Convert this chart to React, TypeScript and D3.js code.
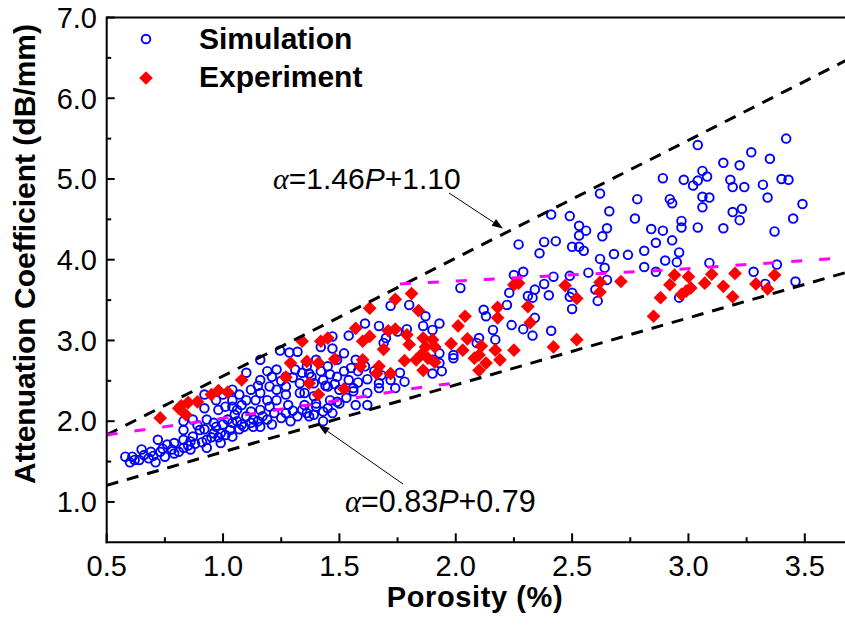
import React from "react";
import * as d3 from "d3";

// porosity (%), attenuation coefficient (dB/mm)
const simulation: [number, number][] = [
  [3.04, 5.42], [3.42, 5.5], [3.27, 5.33], [3.15, 5.2], [3.22, 5.17], [3.35, 5.25], [3.06, 5.1], [3.08, 5.03],
  [2.89, 5.01], [2.98, 4.99], [3.02, 4.92], [3.04, 4.98], [3.18, 4.99], [3.19, 4.9], [3.24, 4.9], [3.32, 4.93],
  [3.4, 5.0], [3.43, 4.99], [3.34, 4.77], [3.06, 4.78], [3.09, 4.77], [3.06, 4.65], [2.92, 4.75], [2.93, 4.7],
  [2.78, 4.75], [2.62, 4.82], [2.66, 4.6], [2.41, 4.56], [2.49, 4.54], [2.53, 4.42], [2.56, 4.36], [2.53, 4.3],
  [2.63, 4.29], [2.65, 4.39], [2.5, 4.16], [2.53, 4.16], [2.55, 4.11], [2.38, 4.22], [2.43, 4.23], [2.36, 4.08],
  [2.77, 4.51], [2.84, 4.38], [2.89, 4.36], [2.86, 4.21], [2.93, 4.24], [2.97, 4.48], [2.97, 4.4], [3.04, 4.4],
  [3.15, 4.39], [3.19, 4.59], [3.23, 4.63], [3.22, 4.49], [3.37, 4.35], [3.45, 4.51], [3.49, 4.69], [2.62, 4.01],
  [2.64, 3.9], [2.68, 4.07], [2.74, 4.06], [2.81, 4.11], [2.9, 3.99], [2.95, 3.97], [2.96, 4.09], [2.81, 3.91],
  [2.86, 3.85], [3.09, 3.96], [3.28, 3.85], [3.38, 3.94], [3.33, 3.7], [3.46, 3.73], [2.29, 3.85], [2.42, 3.79],
  [2.49, 3.8], [2.57, 3.84], [2.65, 3.75], [2.6, 3.63], [2.61, 3.49], [2.5, 3.59], [2.49, 3.54], [2.5, 3.39],
  [2.38, 3.7], [2.34, 3.63], [2.33, 3.53], [2.31, 3.55], [2.4, 3.56], [2.34, 3.28], [2.29, 3.14], [2.33, 3.06],
  [2.41, 3.12], [2.96, 3.53],
  [2.27, 4.19], [2.02, 3.65], [2.25, 3.81], [2.23, 3.59], [2.22, 3.44], [2.12, 3.38], [2.13, 3.3], [2.16, 3.13],
  [2.17, 3.01], [2.24, 3.19], [2.1, 3.03], [2.09, 2.97], [1.99, 2.82], [1.99, 2.78], [1.72, 3.43], [1.8, 3.44],
  [1.87, 3.3], [1.93, 3.21], [1.86, 3.18], [1.9, 3.13], [1.93, 2.84], [1.93, 2.72], [1.9, 2.76], [1.94, 2.62],
  [1.9, 2.59], [1.79, 3.14], [1.75, 3.11], [1.7, 3.03], [1.69, 2.97], [1.61, 3.21], [1.67, 3.18], [1.54, 3.06],
  [1.47, 3.05], [1.42, 2.92], [1.47, 2.9], [1.52, 2.84], [1.57, 2.76], [1.61, 2.68], [1.65, 2.62], [1.68, 2.57],
  [1.58, 2.62], [1.55, 2.66], [1.49, 2.76], [1.45, 2.68], [1.4, 2.76], [1.36, 2.68], [1.38, 2.55], [1.43, 2.51],
  [1.49, 2.55], [1.54, 2.51], [1.62, 2.52], [1.67, 2.47], [1.72, 2.51], [1.76, 2.6], [1.78, 2.49], [1.74, 2.41],
  [1.35, 2.35], [1.46, 2.26], [1.5, 2.39], [1.56, 2.37], [1.62, 2.35], [1.57, 2.2], [1.62, 2.2], [1.5, 2.22],
  [1.4, 2.18], [1.43, 2.12], [1.37, 2.06], [1.47, 2.1],
  [1.245, 2.875], [1.285, 2.85], [1.32, 2.86], [1.1, 2.6], [1.16, 2.51], [1.2, 2.43], [1.12, 2.39], [1.07, 2.33],
  [1.1, 2.26], [1.04, 2.26], [1.01, 2.18], [0.98, 2.14], [0.92, 2.16], [0.93, 2.02], [0.97, 1.93], [0.99, 1.73],
  [1.04, 1.81], [0.9, 1.89], [0.87, 1.81], [0.93, 1.67], [0.83, 1.89], [0.79, 1.73], [0.83, 1.67], [0.72, 1.77],
  [0.76, 1.71], [0.73, 1.62], [0.69, 1.62], [0.65, 1.65], [0.64, 1.52], [0.68, 1.54], [0.71, 1.49], [0.75, 1.56],
  [0.79, 1.6], [0.58, 1.56], [0.61, 1.56], [0.6, 1.49], [0.83, 2.0], [0.87, 2.02], [1.16, 2.76], [1.19, 2.62],
  [1.23, 2.64], [1.27, 2.55], [1.31, 2.64], [1.37, 2.59], [1.33, 2.47], [1.23, 2.39], [1.27, 2.33], [1.19, 2.26],
  [1.16, 2.14], [1.22, 2.1], [1.27, 2.1], [1.32, 2.06], [1.36, 2.1], [1.39, 2.08], [1.13, 2.02], [1.09, 1.93],
  [1.1, 2.06], [1.04, 1.98], [1.02, 2.02], [0.99, 1.85], [1.05, 2.08], [0.97, 2.26], [1.0, 2.33], [0.92, 2.33],
  [1.16, 2.35], [1.39, 2.31],
  [0.83, 1.77], [0.86, 1.65], [0.86, 1.75], [0.93, 1.77], [0.96, 1.85], [0.96, 1.98], [1.03, 1.89], [1.04, 2.18],
  [1.08, 1.96], [1.13, 1.93], [1.16, 1.93], [1.17, 2.06], [1.43, 2.0], [1.4, 2.22], [1.45, 2.16], [1.49, 2.24],
  [1.53, 2.29], [1.04, 2.39], [1.27, 2.43], [1.33, 2.35], [1.39, 2.47], [1.45, 2.43], [1.23, 2.26], [1.35, 2.2],
  [1.56, 2.41], [1.67, 2.41],
  [0.62, 1.52], [0.66, 1.58], [0.7, 1.57], [0.74, 1.66], [0.78, 1.65], [0.81, 1.62], [0.85, 1.7], [0.88, 1.72],
  [0.91, 1.74], [0.95, 1.8], [0.98, 1.8], [1.01, 1.83], [0.89, 1.95], [0.92, 1.9], [1.0, 1.96], [1.06, 2.0],
  [1.07, 1.9], [1.12, 1.98], [1.15, 2.0], [1.19, 2.02], [1.21, 1.96], [1.25, 2.04], [1.29, 2.0], [1.3, 2.13],
  [1.34, 2.14], [1.28, 2.2], [1.2, 2.18], [1.14, 2.26], [1.08, 2.2], [1.12, 2.12], [1.06, 2.14],
  [1.3, 2.54], [1.34, 2.6], [1.42, 2.62], [1.46, 2.58], [1.44, 2.44], [1.52, 2.62], [1.48, 2.46], [1.58, 2.48],
  [1.25, 2.5], [1.21, 2.55], [1.15, 2.44],
];

const experiment: [number, number][] = [
  [2.62, 3.72], [2.62, 3.6], [2.71, 3.73], [2.47, 3.68], [2.52, 3.52], [2.31, 3.42], [2.32, 3.22], [2.42, 2.92],
  [2.52, 3.01], [2.94, 3.81], [3.0, 3.79], [2.92, 3.69], [2.99, 3.61], [3.01, 3.65], [2.97, 3.57], [2.88, 3.53],
  [2.85, 3.3], [3.07, 3.71], [3.1, 3.82], [3.15, 3.67], [3.2, 3.83], [3.19, 3.54], [3.29, 3.7], [3.34, 3.64],
  [3.37, 3.81],
  [1.74, 3.51], [1.81, 3.58], [1.84, 3.37], [1.63, 3.4], [1.57, 3.15], [1.6, 2.99], [1.63, 3.05], [1.71, 3.12],
  [1.74, 3.14], [1.69, 2.89], [1.79, 3.07], [1.8, 2.95], [1.86, 3.03], [1.9, 3.01], [1.87, 2.92], [1.91, 2.92],
  [1.85, 2.82], [1.88, 2.78], [1.83, 2.76], [1.91, 2.73], [1.86, 2.63], [1.78, 2.75], [1.67, 2.68], [1.66, 2.59],
  [1.72, 2.59], [1.6, 2.76], [1.59, 2.68], [1.45, 3.03], [1.42, 2.99], [1.34, 2.99], [1.48, 2.77], [1.36, 2.74],
  [1.41, 2.72], [1.37, 2.47], [1.41, 2.33], [1.52, 2.4], [1.98, 2.96], [2.01, 3.18], [2.04, 3.3], [2.05, 3.02],
  [2.03, 2.88], [2.11, 2.93], [2.1, 2.82], [2.13, 2.72], [2.08, 2.78], [2.17, 2.88], [2.19, 2.76], [2.1, 2.63],
  [2.18, 3.41], [2.18, 3.28], [2.25, 3.69], [2.27, 3.71], [2.25, 2.88],
  [1.29, 2.72], [1.27, 2.545], [1.08, 2.51], [1.02, 2.36], [0.98, 2.38], [0.95, 2.33], [0.89, 2.24], [0.85, 2.23],
  [0.82, 2.19], [0.84, 2.08], [0.73, 2.04], [0.81, 2.16],
];

// bounding lines from the labels, and the two magenta trend lines
const upperFit: [number, number][] = [[0.5, 1.83], [3.7, 6.502]];
const lowerFit: [number, number][] = [[0.5, 1.205], [3.7, 3.861]];
const lowerTrend: [number, number][] = [[0.5, 1.83], [0.87, 1.98], [1.1, 2.08], [1.34, 2.19], [1.57, 2.29], [1.78, 2.39], [2.04, 2.49]];
const upperTrend: [number, number][] = [[1.76, 3.7], [2.03, 3.74], [2.28, 3.78], [2.9, 3.87], [3.7, 4.03]];

const xTicks = [0.5, 1.0, 1.5, 2.0, 2.5, 3.0, 3.5];
const xMinor = [0.75, 1.25, 1.75, 2.25, 2.75, 3.25];
const yTicks = [1, 2, 3, 4, 5, 6, 7];
const yMinor = [1.5, 2.5, 3.5, 4.5, 5.5, 6.5];

const W = 845;
const H = 628;
const left = 106.7;
const top = 17.5;
const bottom = 542.3;
const font = "'Liberation Sans', Arial, Helvetica, sans-serif";
const serif = "'Liberation Serif', 'Times New Roman', serif";

function Arrow({ x1, y1, x2, y2 }: { x1: number; y1: number; x2: number; y2: number }) {
  const a = Math.atan2(y2 - y1, x2 - x1);
  const len = 11;
  const w = 4;
  const bx = x2 - len * Math.cos(a);
  const by = y2 - len * Math.sin(a);
  const pts = [
    [x2, y2],
    [bx + w * Math.sin(a), by - w * Math.cos(a)],
    [bx - w * Math.sin(a), by + w * Math.cos(a)],
  ];
  return (
    <g>
      <line x1={x1} y1={y1} x2={bx} y2={by} stroke="#000" strokeWidth={1} />
      <polygon points={pts.map((p) => p.join(",")).join(" ")} fill="#000" />
    </g>
  );
}

export default function App() {
  const x = d3.scaleLinear().domain([0.5, 3.7]).range([left, left + 3.2 * 232.7]);
  const y = d3.scaleLinear().domain([0.5, 7]).range([bottom, top]);
  const line = d3
    .line<[number, number]>()
    .x((d) => x(d[0]))
    .y((d) => y(d[1]));
  const diamond = d3.symbol().type(d3.symbolSquare).size(94)() as string;

  return (
    <svg width={W} height={H} style={{ position: "absolute", left: 0, top: 0, background: "#fff" }} fontFamily={font}>
      <defs>
        <clipPath id="plot">
          <rect x={left} y={top} width={W - left} height={bottom - top} />
        </clipPath>
      </defs>

      {/* scatter */}
      <g fill="none" stroke="#0000ff" strokeWidth={1.9}>
        {simulation.map((d, i) => (
          <circle key={i} cx={x(d[0])} cy={y(d[1])} r={4.3} />
        ))}
      </g>
      <g fill="#ff0000">
        {experiment.map((d, i) => (
          <path key={i} d={diamond} transform={`translate(${x(d[0])},${y(d[1])}) rotate(45)`} />
        ))}
      </g>

      {/* lines */}
      <g clipPath="url(#plot)" fill="none" strokeWidth={3}>
        <path d={line(upperFit) ?? ""} stroke="#000" strokeDasharray="12 9" />
        <path d={line(lowerFit) ?? ""} stroke="#000" strokeDasharray="12 9" />
        <path d={line(lowerTrend) ?? ""} stroke="#ff00ff" strokeDasharray="11 17" />
        <path d={line(upperTrend) ?? ""} stroke="#ff00ff" strokeDasharray="11 17" />
      </g>

      {/* axes */}
      <g stroke="#000" strokeWidth={2}>
        <line x1={left} y1={top} x2={W} y2={top} />
        <line x1={left} y1={top - 1} x2={left} y2={bottom + 1} />
        <line x1={left - 1} y1={bottom} x2={W} y2={bottom} />
        {xTicks.map((t) => (
          <line key={t} x1={x(t)} x2={x(t)} y1={bottom} y2={bottom - 9} />
        ))}
        {xMinor.map((t) => (
          <line key={t} x1={x(t)} x2={x(t)} y1={bottom} y2={bottom - 5} />
        ))}
        {yTicks.map((t) => (
          <line key={t} x1={left} x2={left + 8} y1={y(t)} y2={y(t)} />
        ))}
        {yMinor.map((t) => (
          <line key={t} x1={left} x2={left + 4.5} y1={y(t)} y2={y(t)} />
        ))}
      </g>
      <g fontSize={29} fill="#000">
        {xTicks.map((t) => (
          <text key={t} x={x(t)} y={576} textAnchor="middle">
            {t.toFixed(1)}
          </text>
        ))}
        {yTicks.map((t) => (
          <text key={t} x={97} y={y(t) + 10.3} textAnchor="end">
            {t.toFixed(1)}
          </text>
        ))}
      </g>
      <text x={475} y={607} textAnchor="middle" fontSize={29} fontWeight="bold" letterSpacing={0.6}>
        Porosity (%)
      </text>
      <text transform="translate(35,254) rotate(-90)" textAnchor="middle" fontSize={30} fontWeight="bold">
        Attenuation Coefficient (dB/mm)
      </text>

      {/* legend */}
      <circle cx={146} cy={39} r={4.3} fill="none" stroke="#0000ff" strokeWidth={1.9} />
      <path d={diamond} transform="translate(146,78) rotate(45)" fill="#ff0000" />
      <text x={199} y={49} fontSize={30} fontWeight="bold">Simulation</text>
      <text x={199} y={87} fontSize={30} fontWeight="bold">Experiment</text>

      {/* annotations */}
      <text x={273} y={189} fontSize={30}>
        <tspan fontFamily={serif} fontStyle="italic">α</tspan>
        =1.46<tspan fontStyle="italic">P</tspan>+1.10
      </text>
      <Arrow x1={449} y1={193} x2={503} y2={228.5} />
      <text x={345} y={512} fontSize={30.5}>
        <tspan fontFamily={serif} fontStyle="italic">α</tspan>
        =0.83<tspan fontStyle="italic">P</tspan>+0.79
      </text>
      <Arrow x1={403} y1={484} x2={318.5} y2={425} />
    </svg>
  );
}
